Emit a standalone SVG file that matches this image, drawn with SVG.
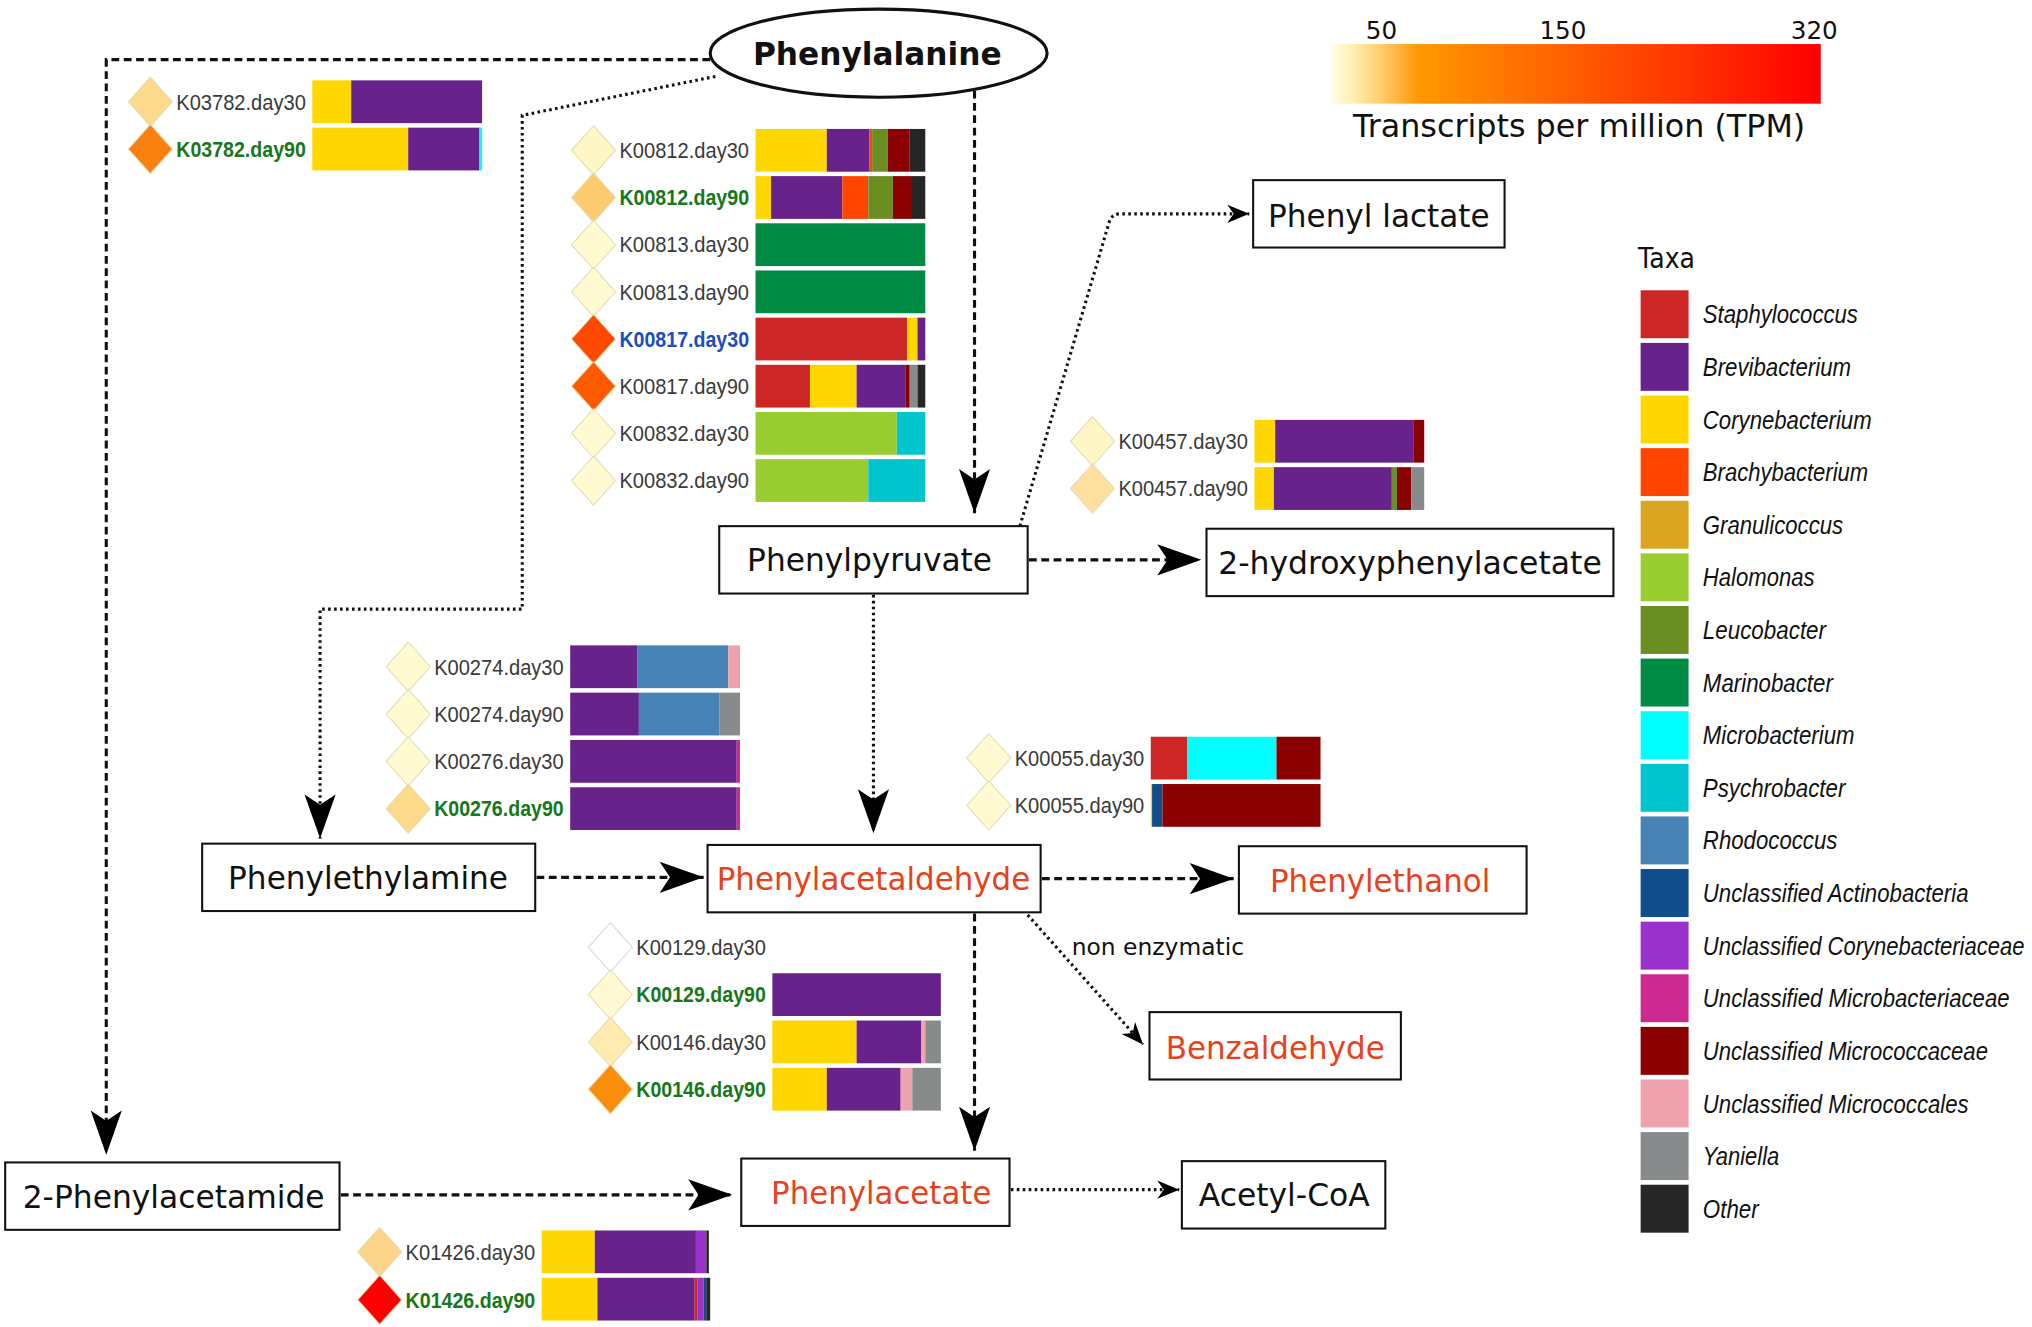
<svg xmlns="http://www.w3.org/2000/svg" width="2032" height="1327" viewBox="0 0 2032 1327">
<defs>
<style>
.st{fill:#CD2626}.br{fill:#68228B}.co{fill:#FFD700}.bc{fill:#FF4500}.gr{fill:#DAA520}.ha{fill:#9ACD32}.le{fill:#6B8E23}.ma{fill:#008B45}.mi{fill:#00FFFF}.ps{fill:#00C5CD}.rh{fill:#4682B4}.ua{fill:#104E8B}.uc{fill:#9932CC}.um{fill:#CD2990}.uk{fill:#8B0000}.up{fill:#EEA2AD}.ya{fill:#878B8B}.ot{fill:#262626}
.box{fill:#fff;stroke:#111;stroke-width:1.6}
.nl{font-family:"DejaVu Sans","Liberation Sans",sans-serif;font-size:25px;fill:#111;text-anchor:middle}
.red{fill:#E8411B}
.kl{font-family:"Liberation Sans",Arial,sans-serif;font-size:17.5px;fill:#3a3a3a}
.kg{fill:#16781A;font-weight:bold}
.kb{fill:#1C4DBF;font-weight:bold}
.dm{stroke:#E6DDB0;stroke-width:0.8}
.lg{font-family:"Liberation Sans",Arial,sans-serif;font-size:19.5px;font-style:italic;fill:#111}
.dash{fill:none;stroke:#111;stroke-width:2.4;stroke-dasharray:6 3.5}
.dot{fill:none;stroke:#111;stroke-width:2.4;stroke-dasharray:2 2.6}
</style>
<marker id="ah" markerUnits="userSpaceOnUse" viewBox="-36 -15 40 30" markerWidth="40" markerHeight="30" refX="0" refY="0" orient="auto" overflow="visible"><path d="M0,0 L-34,-12 L-26,0 L-34,12 Z" fill="#000"/></marker>
<marker id="as" markerUnits="userSpaceOnUse" viewBox="-20 -10 22 20" markerWidth="22" markerHeight="20" refX="0" refY="0" orient="auto" overflow="visible"><path d="M0,0 L-17,-7 L-12,0 L-17,7 Z" fill="#000"/></marker>
<linearGradient id="tpm" x1="0" x2="1" y1="0" y2="0">
<stop offset="0" stop-color="#FFFEE8"/><stop offset="0.04" stop-color="#FFF2B8"/><stop offset="0.09" stop-color="#FFD57A"/><stop offset="0.14" stop-color="#FFB23C"/><stop offset="0.177" stop-color="#FF9800"/><stop offset="1" stop-color="#FF0000"/>
</linearGradient>
</defs>
<rect width="2032" height="1327" fill="#fff"/>
<g transform="scale(1.295918)">

<g id="connectors">
<path class="dash" d="M548,46 H82 V891" marker-end="url(#ah)"/>
<path class="dot" d="M552,59 L403,89 V470 H247 V647" marker-end="url(#ah)"/>
<path class="dash" d="M752,70 V396" marker-end="url(#ah)"/>
<path class="dot" d="M787,406 L856,171 Q858,165 864,165 H964" marker-end="url(#as)"/>
<path class="dash" d="M794,432 H927" marker-end="url(#ah)"/>
<path class="dot" d="M674,459 V643" marker-end="url(#ah)"/>
<path class="dash" d="M414,677 H543" marker-end="url(#ah)"/>
<path class="dash" d="M804,678 H952" marker-end="url(#ah)"/>
<path class="dash" d="M752,705 V888" marker-end="url(#ah)"/>
<path class="dot" d="M793,706 L882,806" marker-end="url(#as)"/>
<path class="dash" d="M263,922 H565" marker-end="url(#ah)"/>
<path class="dot" d="M780,918 H910" marker-end="url(#as)"/>
<text x="827" y="737" font-family="DejaVu Sans, sans-serif" font-size="18" fill="#111" textLength="133" lengthAdjust="spacingAndGlyphs">non enzymatic</text>
</g>

<g id="phenylalanine">
<ellipse cx="678" cy="41" rx="130" ry="34" fill="#fff" stroke="#111" stroke-width="2.4"/>
<text class="nl" x="677" y="50" font-weight="bold" textLength="192" lengthAdjust="spacingAndGlyphs">Phenylalanine</text>
</g>
<g id="phenyl-lactate"><rect class="box" x="967" y="139" width="194" height="52"/><text class="nl" x="1064" y="175" textLength="171" lengthAdjust="spacingAndGlyphs">Phenyl lactate</text></g>
<g id="phenylpyruvate"><rect class="box" x="555" y="406" width="238" height="52"/><text class="nl" x="671" y="441" textLength="189" lengthAdjust="spacingAndGlyphs">Phenylpyruvate</text></g>
<g id="hydroxyphenylacetate"><rect class="box" x="931" y="408" width="314" height="52"/><text class="nl" x="1088" y="443" textLength="296" lengthAdjust="spacingAndGlyphs">2-hydroxyphenylacetate</text></g>
<g id="phenylethylamine"><rect class="box" x="156" y="651" width="257" height="52"/><text class="nl" x="284" y="686" textLength="216" lengthAdjust="spacingAndGlyphs">Phenylethylamine</text></g>
<g id="phenylacetaldehyde"><rect class="box" x="546" y="652" width="257" height="52"/><text class="nl red" x="674" y="687" textLength="242" lengthAdjust="spacingAndGlyphs">Phenylacetaldehyde</text></g>
<g id="phenylethanol"><rect class="box" x="956" y="653" width="222" height="52"/><text class="nl red" x="1065" y="688" textLength="170" lengthAdjust="spacingAndGlyphs">Phenylethanol</text></g>
<g id="benzaldehyde"><rect class="box" x="887" y="781" width="194" height="52"/><text class="nl red" x="984" y="817" textLength="169" lengthAdjust="spacingAndGlyphs">Benzaldehyde</text></g>
<g id="phenylacetamide"><rect class="box" x="4" y="897" width="258" height="52"/><text class="nl" x="134" y="932" textLength="233" lengthAdjust="spacingAndGlyphs">2-Phenylacetamide</text></g>
<g id="phenylacetate"><rect class="box" x="572" y="894" width="207" height="52"/><text class="nl red" x="680" y="929" textLength="170" lengthAdjust="spacingAndGlyphs">Phenylacetate</text></g>
<g id="acetyl-coa"><rect class="box" x="912" y="896" width="157" height="52"/><text class="nl" x="991" y="931" textLength="132" lengthAdjust="spacingAndGlyphs">Acetyl-CoA</text></g>

<g id="bars-K03782">
<path class="dm" d="M116,59.5 l17,19 l-17,19 l-17,-19 Z" fill="#FDD98C"/>
<path class="dm" d="M116,96 l17,19 l-17,19 l-17,-19 Z" fill="#FA8010"/>
<text class="kl" x="136" y="84.5" textLength="100" lengthAdjust="spacingAndGlyphs">K03782.day30</text>
<text class="kl kg" x="136" y="121" textLength="100" lengthAdjust="spacingAndGlyphs">K03782.day90</text>
<rect class="co" x="241" y="62" width="30" height="33"/><rect class="br" x="271" y="62" width="101" height="33"/>
<rect class="co" x="241" y="98.5" width="74" height="33"/><rect class="br" x="315" y="98.5" width="55" height="33"/><rect class="mi" x="370" y="98.5" width="2" height="33"/>
</g>

<g id="bars-K00812-K00832">
<path class="dm" d="M458,97 l17,19 l-17,19 l-17,-19 Z" fill="#FFF6C6"/>
<path class="dm" d="M458,133.4 l17,19 l-17,19 l-17,-19 Z" fill="#FDCB6E"/>
<path class="dm" d="M458,169.8 l17,19 l-17,19 l-17,-19 Z" fill="#FFFAD2"/>
<path class="dm" d="M458,206.2 l17,19 l-17,19 l-17,-19 Z" fill="#FFFAD2"/>
<path class="dm" d="M458,242.6 l17,19 l-17,19 l-17,-19 Z" fill="#FF4800"/>
<path class="dm" d="M458,279 l17,19 l-17,19 l-17,-19 Z" fill="#FF5A00"/>
<path class="dm" d="M458,315.4 l17,19 l-17,19 l-17,-19 Z" fill="#FFFAD2"/>
<path class="dm" d="M458,351.8 l17,19 l-17,19 l-17,-19 Z" fill="#FFFAD2"/>
<text class="kl" x="478" y="122" textLength="100" lengthAdjust="spacingAndGlyphs">K00812.day30</text>
<text class="kl kg" x="478" y="158.4" textLength="100" lengthAdjust="spacingAndGlyphs">K00812.day90</text>
<text class="kl" x="478" y="194.8" textLength="100" lengthAdjust="spacingAndGlyphs">K00813.day30</text>
<text class="kl" x="478" y="231.2" textLength="100" lengthAdjust="spacingAndGlyphs">K00813.day90</text>
<text class="kl kb" x="478" y="267.6" textLength="100" lengthAdjust="spacingAndGlyphs">K00817.day30</text>
<text class="kl" x="478" y="304" textLength="100" lengthAdjust="spacingAndGlyphs">K00817.day90</text>
<text class="kl" x="478" y="340.4" textLength="100" lengthAdjust="spacingAndGlyphs">K00832.day30</text>
<text class="kl" x="478" y="376.8" textLength="100" lengthAdjust="spacingAndGlyphs">K00832.day90</text>
<rect class="co" x="583" y="99.5" width="55" height="33"/><rect class="br" x="638" y="99.5" width="33" height="33"/><rect class="bc" x="671" y="99.5" width="2" height="33"/><rect class="le" x="673" y="99.5" width="12" height="33"/><rect class="uk" x="685" y="99.5" width="17" height="33"/><rect class="ot" x="702" y="99.5" width="12" height="33"/>
<rect class="co" x="583" y="135.9" width="12" height="33"/><rect class="br" x="595" y="135.9" width="55" height="33"/><rect class="bc" x="650" y="135.9" width="20" height="33"/><rect class="le" x="670" y="135.9" width="19" height="33"/><rect class="uk" x="689" y="135.9" width="14" height="33"/><rect class="ot" x="703" y="135.9" width="11" height="33"/>
<rect class="ma" x="583" y="172.3" width="131" height="33"/>
<rect class="ma" x="583" y="208.7" width="131" height="33"/>
<rect class="st" x="583" y="245.1" width="117" height="33"/><rect class="co" x="700" y="245.1" width="8" height="33"/><rect class="br" x="708" y="245.1" width="6" height="33"/>
<rect class="st" x="583" y="281.5" width="42" height="33"/><rect class="co" x="625" y="281.5" width="36" height="33"/><rect class="br" x="661" y="281.5" width="38" height="33"/><rect class="uk" x="699" y="281.5" width="3" height="33"/><rect class="ya" x="702" y="281.5" width="6" height="33"/><rect class="ot" x="708" y="281.5" width="6" height="33"/>
<rect class="ha" x="583" y="317.9" width="109" height="33"/><rect class="ps" x="692" y="317.9" width="22" height="33"/>
<rect class="ha" x="583" y="354.3" width="87" height="33"/><rect class="ps" x="670" y="354.3" width="44" height="33"/>
</g>

<g id="bars-K00457">
<path class="dm" d="M843,321.5 l17,19 l-17,19 l-17,-19 Z" fill="#FFF6C6"/>
<path class="dm" d="M843,358 l17,19 l-17,19 l-17,-19 Z" fill="#FDDFA0"/>
<text class="kl" x="863" y="346.5" textLength="100" lengthAdjust="spacingAndGlyphs">K00457.day30</text>
<text class="kl" x="863" y="383" textLength="100" lengthAdjust="spacingAndGlyphs">K00457.day90</text>
<rect class="co" x="968" y="324" width="16" height="33"/><rect class="br" x="984" y="324" width="107" height="33"/><rect class="uk" x="1091" y="324" width="8" height="33"/>
<rect class="co" x="968" y="360.5" width="15" height="33"/><rect class="br" x="983" y="360.5" width="91" height="33"/><rect class="le" x="1074" y="360.5" width="4" height="33"/><rect class="uk" x="1078" y="360.5" width="11" height="33"/><rect class="ya" x="1089" y="360.5" width="10" height="33"/>
</g>

<g id="bars-K00274-K00276">
<path class="dm" d="M315,495.5 l17,19 l-17,19 l-17,-19 Z" fill="#FFFAD2"/>
<path class="dm" d="M315,532 l17,19 l-17,19 l-17,-19 Z" fill="#FFFAD2"/>
<path class="dm" d="M315,568.5 l17,19 l-17,19 l-17,-19 Z" fill="#FFFAD2"/>
<path class="dm" d="M315,605 l17,19 l-17,19 l-17,-19 Z" fill="#FDD98A"/>
<text class="kl" x="335" y="520.5" textLength="100" lengthAdjust="spacingAndGlyphs">K00274.day30</text>
<text class="kl" x="335" y="557" textLength="100" lengthAdjust="spacingAndGlyphs">K00274.day90</text>
<text class="kl" x="335" y="593.5" textLength="100" lengthAdjust="spacingAndGlyphs">K00276.day30</text>
<text class="kl kg" x="335" y="630" textLength="100" lengthAdjust="spacingAndGlyphs">K00276.day90</text>
<rect class="br" x="440" y="498" width="52" height="33"/><rect class="rh" x="492" y="498" width="70" height="33"/><rect class="up" x="562" y="498" width="9" height="33"/>
<rect class="br" x="440" y="534.5" width="53" height="33"/><rect class="rh" x="493" y="534.5" width="62" height="33"/><rect class="ya" x="555" y="534.5" width="16" height="33"/>
<rect class="br" x="440" y="571" width="128.5" height="33"/><rect class="um" x="568.5" y="571" width="2.5" height="33"/>
<rect class="br" x="440" y="607.5" width="128.5" height="33"/><rect class="um" x="568.5" y="607.5" width="2.5" height="33"/>
</g>

<g id="bars-K00055">
<path class="dm" d="M763,566 l17,19 l-17,19 l-17,-19 Z" fill="#FFFAD2"/>
<path class="dm" d="M763,602.5 l17,19 l-17,19 l-17,-19 Z" fill="#FFFAD2"/>
<text class="kl" x="783" y="591" textLength="100" lengthAdjust="spacingAndGlyphs">K00055.day30</text>
<text class="kl" x="783" y="627.5" textLength="100" lengthAdjust="spacingAndGlyphs">K00055.day90</text>
<rect class="st" x="888" y="568.5" width="28" height="33"/><rect class="mi" x="916" y="568.5" width="69" height="33"/><rect class="uk" x="985" y="568.5" width="34" height="33"/>
<rect class="co" x="888" y="605" width="1" height="33"/><rect class="ua" x="889" y="605" width="8" height="33"/><rect class="uk" x="897" y="605" width="122" height="33"/>
</g>

<g id="bars-K00129-K00146">
<path d="M471,712 l17,19 l-17,19 l-17,-19 Z" fill="#fff" stroke="#D8D8D8" stroke-width="0.8"/>
<path class="dm" d="M471,748.5 l17,19 l-17,19 l-17,-19 Z" fill="#FFFAD2"/>
<path class="dm" d="M471,785 l17,19 l-17,19 l-17,-19 Z" fill="#FFEBB0"/>
<path class="dm" d="M471,821.5 l17,19 l-17,19 l-17,-19 Z" fill="#FA8E0A"/>
<text class="kl" x="491" y="737" textLength="100" lengthAdjust="spacingAndGlyphs">K00129.day30</text>
<text class="kl kg" x="491" y="773.5" textLength="100" lengthAdjust="spacingAndGlyphs">K00129.day90</text>
<text class="kl" x="491" y="810" textLength="100" lengthAdjust="spacingAndGlyphs">K00146.day30</text>
<text class="kl kg" x="491" y="846.5" textLength="100" lengthAdjust="spacingAndGlyphs">K00146.day90</text>
<rect class="br" x="596" y="751" width="130" height="33"/>
<rect class="co" x="596" y="787.5" width="65" height="33"/><rect class="br" x="661" y="787.5" width="50" height="33"/><rect class="up" x="711" y="787.5" width="3" height="33"/><rect class="ya" x="714" y="787.5" width="12" height="33"/>
<rect class="co" x="596" y="824" width="42" height="33"/><rect class="br" x="638" y="824" width="57" height="33"/><rect class="up" x="695" y="824" width="9" height="33"/><rect class="ya" x="704" y="824" width="22" height="33"/>
</g>

<g id="bars-K01426">
<path class="dm" d="M293,947 l17,19 l-17,19 l-17,-19 Z" fill="#FDD58A"/>
<path class="dm" d="M293,984 l17,19 l-17,19 l-17,-19 Z" fill="#FF0000"/>
<text class="kl" x="313" y="972" textLength="100" lengthAdjust="spacingAndGlyphs">K01426.day30</text>
<text class="kl kg" x="313" y="1009" textLength="100" lengthAdjust="spacingAndGlyphs">K01426.day90</text>
<rect class="co" x="418" y="949.5" width="41" height="33"/><rect class="br" x="459" y="949.5" width="78" height="33"/><rect class="uc" x="537" y="949.5" width="8" height="33"/><rect class="ot" x="545" y="949.5" width="2" height="33"/>
<rect class="co" x="418" y="986" width="43" height="33"/><rect class="br" x="461" y="986" width="75" height="33"/><rect class="st" x="536" y="986" width="2" height="33"/><rect class="uc" x="538" y="986" width="5" height="33"/><rect class="ua" x="543" y="986" width="2" height="33"/><rect class="ot" x="545" y="986" width="3" height="33"/>
</g>

<g id="tpm-scale">
<rect x="1027" y="34" width="378" height="46" fill="url(#tpm)"/>
<g font-family="DejaVu Sans, sans-serif" font-size="19" fill="#111" text-anchor="middle">
<text x="1066" y="30">50</text><text x="1206" y="30">150</text><text x="1400" y="30">320</text>
</g>
<text x="1044" y="106" font-family="DejaVu Sans, sans-serif" font-size="24" fill="#111" textLength="349" lengthAdjust="spacingAndGlyphs">Transcripts per million (TPM)</text>
</g>

<g id="taxa-legend">
<text x="1264" y="207" font-family="DejaVu Sans, sans-serif" font-size="22" fill="#111" textLength="44" lengthAdjust="spacingAndGlyphs">Taxa</text>
<rect class="st" x="1266" y="224" width="37" height="37"/>
<rect class="br" x="1266" y="264.6" width="37" height="37"/>
<rect class="co" x="1266" y="305.2" width="37" height="37"/>
<rect class="bc" x="1266" y="345.8" width="37" height="37"/>
<rect class="gr" x="1266" y="386.4" width="37" height="37"/>
<rect class="ha" x="1266" y="427" width="37" height="37"/>
<rect class="le" x="1266" y="467.6" width="37" height="37"/>
<rect class="ma" x="1266" y="508.2" width="37" height="37"/>
<rect class="mi" x="1266" y="548.8" width="37" height="37"/>
<rect class="ps" x="1266" y="589.4" width="37" height="37"/>
<rect class="rh" x="1266" y="630" width="37" height="37"/>
<rect class="ua" x="1266" y="670.6" width="37" height="37"/>
<rect class="uc" x="1266" y="711.2" width="37" height="37"/>
<rect class="um" x="1266" y="751.8" width="37" height="37"/>
<rect class="uk" x="1266" y="792.4" width="37" height="37"/>
<rect class="up" x="1266" y="833" width="37" height="37"/>
<rect class="ya" x="1266" y="873.6" width="37" height="37"/>
<rect class="ot" x="1266" y="914.2" width="37" height="37"/>
<g transform="translate(1314 0) scale(0.88 1)">
<text class="lg" x="0" y="249.5" textLength="136" lengthAdjust="spacingAndGlyphs">Staphylococcus</text>
<text class="lg" x="0" y="290.1" textLength="130" lengthAdjust="spacingAndGlyphs">Brevibacterium</text>
<text class="lg" x="0" y="330.7" textLength="148" lengthAdjust="spacingAndGlyphs">Corynebacterium</text>
<text class="lg" x="0" y="371.3" textLength="145" lengthAdjust="spacingAndGlyphs">Brachybacterium</text>
<text class="lg" x="0" y="411.9" textLength="123" lengthAdjust="spacingAndGlyphs">Granulicoccus</text>
<text class="lg" x="0" y="452.5" textLength="98" lengthAdjust="spacingAndGlyphs">Halomonas</text>
<text class="lg" x="0" y="493.1" textLength="108" lengthAdjust="spacingAndGlyphs">Leucobacter</text>
<text class="lg" x="0" y="533.7" textLength="114" lengthAdjust="spacingAndGlyphs">Marinobacter</text>
<text class="lg" x="0" y="574.3" textLength="133" lengthAdjust="spacingAndGlyphs">Microbacterium</text>
<text class="lg" x="0" y="614.9" textLength="125" lengthAdjust="spacingAndGlyphs">Psychrobacter</text>
<text class="lg" x="0" y="655.5" textLength="118" lengthAdjust="spacingAndGlyphs">Rhodococcus</text>
<text class="lg" x="0" y="696.1" textLength="233" lengthAdjust="spacingAndGlyphs">Unclassified Actinobacteria</text>
<text class="lg" x="0" y="736.7" textLength="282" lengthAdjust="spacingAndGlyphs">Unclassified Corynebacteriaceae</text>
<text class="lg" x="0" y="777.3" textLength="269" lengthAdjust="spacingAndGlyphs">Unclassified Microbacteriaceae</text>
<text class="lg" x="0" y="817.9" textLength="250" lengthAdjust="spacingAndGlyphs">Unclassified Micrococcaceae</text>
<text class="lg" x="0" y="858.5" textLength="233" lengthAdjust="spacingAndGlyphs">Unclassified Micrococcales</text>
<text class="lg" x="0" y="899.1" textLength="67" lengthAdjust="spacingAndGlyphs">Yaniella</text>
<text class="lg" x="0" y="939.7" textLength="49" lengthAdjust="spacingAndGlyphs">Other</text>
</g>
</g>

</g>
</svg>
